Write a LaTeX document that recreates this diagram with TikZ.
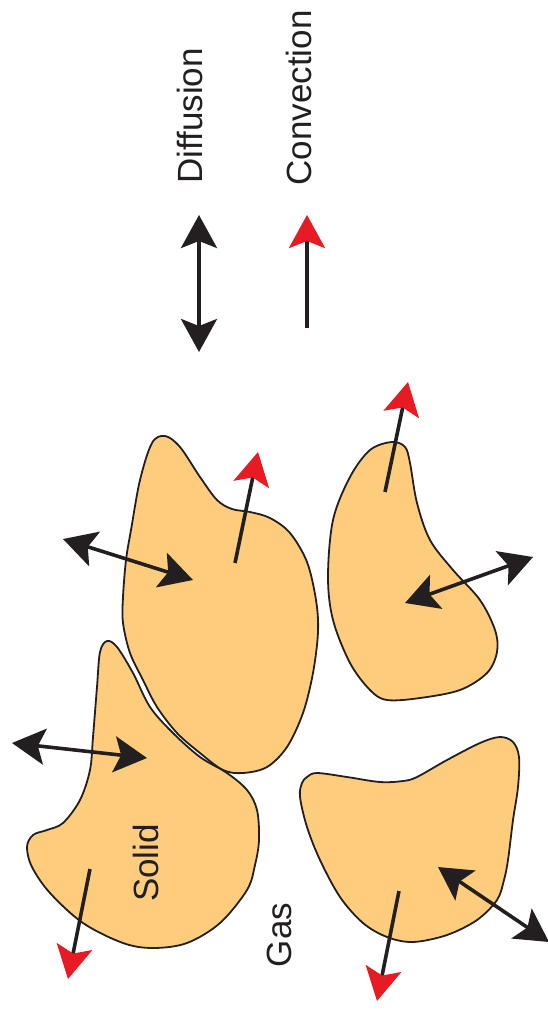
\documentclass[tikz,border=0pt]{standalone}
\usepackage{fontspec}
\setmainfont{Liberation Sans}
\usetikzlibrary{arrows.meta}
\definecolor{grainfill}{RGB}{253,205,125}
\definecolor{inkblack}{RGB}{35,31,32}
\definecolor{convred}{RGB}{230,27,36}
\tikzset{
  bigtip/.tip={Stealth[length=33pt,width=36pt,inset=7pt]},
  redtip/.tip={Stealth[length=33pt,width=36pt,inset=7pt,color=convred]},
  grain/.style={draw=inkblack, line width=1.8pt, fill=grainfill},
  diffarrow/.style={draw=inkblack, line width=3.6pt, {bigtip}-{bigtip}},
  convarrow/.style={draw=inkblack, line width=3.6pt, -{redtip}},
  lbl/.style={font=\fontsize{35}{42}\selectfont, text=inkblack, inner sep=0pt, rotate=90}
}
\begin{document}
\begin{tikzpicture}[x=1pt,y=-1pt]
\useasboundingbox (0,0) rectangle (548,1012);

% grains
\draw[grain] plot[smooth cycle, tension=0.55] coordinates {
 (165,436) (180,447) (200,477) (217,500) (232,509) (250,512) (270,518) (290,533)
 (307,562) (316,600) (318,632) (313,673) (303,713) (287,747) (267,767) (243,773)
 (223,770) (200,753) (177,733) (157,707) (143,680) (130,653) (123,623) (123,597)
 (126,560) (131,530) (140,480) (152,443)};
\draw[grain] plot[smooth cycle, tension=0.55] coordinates {
 (107,641) (117,647) (133,673) (150,707) (173,733) (200,757) (227,773) (247,790)
 (257,810) (259,840) (255,865) (247,890) (220,923) (187,943) (153,948) (123,943)
 (83,923) (50,893) (32,867) (27,847) (33,835) (47,830) (63,823) (80,800)
 (90,770) (93,737) (97,687) (100,652)};
\draw[grain] plot[smooth cycle, tension=0.55] coordinates {
 (392,442) (405,447) (410,463) (417,503) (430,540) (453,570) (480,600) (495,630)
 (497,652) (487,673) (460,690) (420,698) (387,700) (370,690) (350,663) (333,620)
 (328,577) (333,520) (350,477) (370,450)};
\draw[grain] plot[smooth cycle, tension=0.55] coordinates {
 (317,773) (347,777) (380,782) (403,781) (417,777) (447,760) (480,743) (500,737)
 (513,742) (519,757) (518,787) (513,820) (508,860) (504,880) (497,900) (477,920)
 (447,935) (413,942) (387,937) (363,923) (340,897) (320,860) (307,827) (300,797)
 (302,783) (307,777)};

% labels
\node[lbl] (diflbl) at (190,116) {Diffusion};
\node[lbl] (convlbl) at (299,98) {Convection};
\node[lbl] (solid) at (146,863) {Solid};
\node[lbl] (gas) at (279,935) {Gas};

% arrow end points
\coordinate (ld1) at (199,215); \coordinate (ld2) at (199,352);
\coordinate (lc1) at (307,328); \coordinate (lc2) at (307,215);
\coordinate (ad1) at (63,539);  \coordinate (ad2) at (193,580);
\coordinate (ac1) at (235,563); \coordinate (ac2) at (258,452);
\coordinate (cc1) at (385,492); \coordinate (cc2) at (408,382);
\coordinate (cd1) at (405,603); \coordinate (cd2) at (533,557);
\coordinate (bd1) at (12,743);  \coordinate (bd2) at (147,758);
\coordinate (bc1) at (90,869);  \coordinate (bc2) at (68,979);
\coordinate (dc1) at (399,891); \coordinate (dc2) at (377,1001);
\coordinate (dd1) at (438,867); \coordinate (dd2) at (549,942);

% arrows
\draw[diffarrow] (ld1) -- (ld2);
\draw[convarrow] (lc1) -- (lc2);
\draw[diffarrow] (ad1) -- (ad2);
\draw[convarrow] (ac1) -- (ac2);
\draw[convarrow] (cc1) -- (cc2);
\draw[diffarrow] (cd1) -- (cd2);
\draw[diffarrow] (bd1) -- (bd2);
\draw[convarrow] (bc1) -- (bc2);
\draw[convarrow] (dc1) -- (dc2);
\draw[diffarrow] (dd1) -- (dd2);
\end{tikzpicture}
\end{document}
